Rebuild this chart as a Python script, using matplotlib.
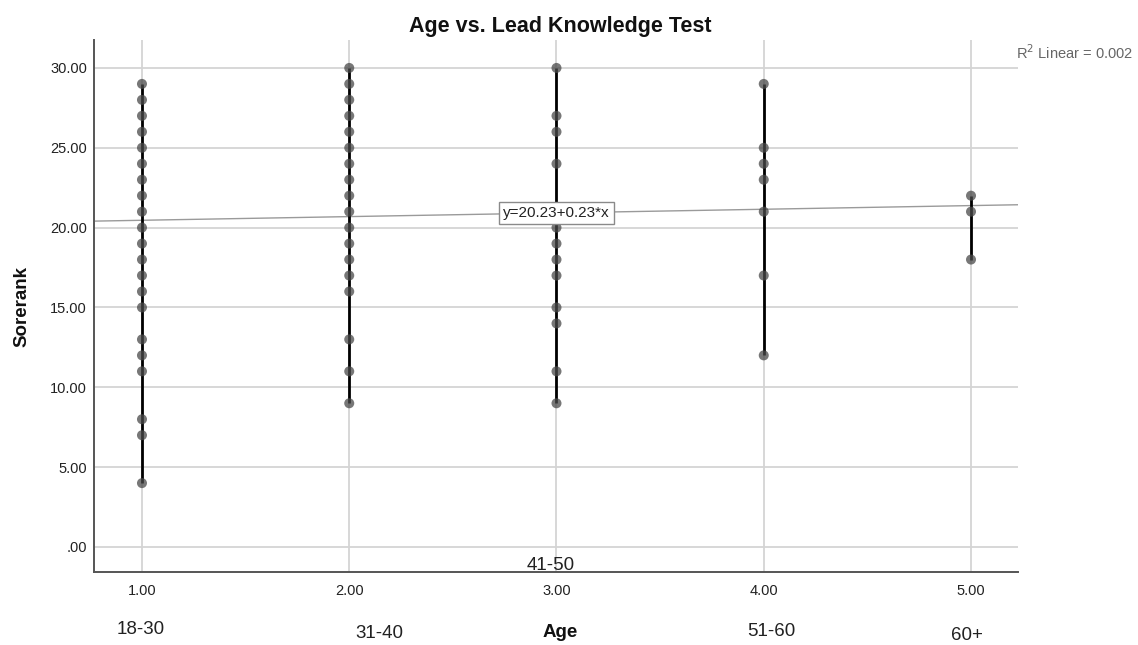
import matplotlib
matplotlib.use("Agg")
import matplotlib.pyplot as plt
import matplotlib.transforms as mtransforms
from matplotlib.ticker import FuncFormatter, MultipleLocator

plt.rcParams["font.family"] = ["Liberation Sans", "DejaVu Sans"]

# data
AGE_CODES = [1, 2, 3, 4, 5]
AGE_GROUPS = ["18-30", "31-40", "41-50", "51-60", "60+"]
SCORES_1 = [29, 28, 27, 26, 25, 24, 23, 22, 21, 20, 19, 18, 17, 16, 15, 13, 12, 11, 8, 7, 4]
SCORES_2 = [30, 29, 28, 27, 26, 25, 24, 23, 22, 21, 20, 19, 18, 17, 16, 13, 11, 9]
SCORES_3 = [30, 27, 26, 24, 20, 19, 18, 17, 15, 14, 11, 9]
SCORES_4 = [29, 25, 24, 23, 21, 17, 12]
SCORES_5 = [22, 21, 18]
FIT_INTERCEPT = 20.23
FIT_SLOPE = 0.23
R2_LINEAR = 0.002

# layout for the age-group captions (x in data units, y in figure fraction)
GROUP_LABEL_POS = [(0.995, 0.017), (2.143, 0.011), (2.974, 0.117), (4.037, 0.014), (4.98, 0.008)]


def main() -> None:
    fig = plt.figure(figsize=(11.38, 6.45), dpi=100)
    ax = fig.add_axes([0.0826, 0.1132, 0.812, 0.8248])

    xmin, xmax = 0.7685, 5.227
    ax.set_xlim(xmin, xmax)
    ax.set_ylim(-1.565, 31.75)

    ax.grid(True, color="#d4d4d4", linewidth=1.3, zorder=0)
    ax.set_axisbelow(True)

    all_scores = [SCORES_1, SCORES_2, SCORES_3, SCORES_4, SCORES_5]
    for code, scores in zip(AGE_CODES, all_scores):
        ax.vlines(code, min(scores), max(scores), color="black", linewidth=2.0, zorder=3)
        ax.scatter([code] * len(scores), scores, s=52, color="#4a4a4a", alpha=0.75,
                   edgecolors="none", zorder=4)

    # linear fit line across the full axis
    ax.plot([xmin, xmax], [FIT_INTERCEPT + FIT_SLOPE * xmin, FIT_INTERCEPT + FIT_SLOPE * xmax],
            color="#9a9a9a", linewidth=1.0, zorder=2)
    ax.text(3, FIT_INTERCEPT + FIT_SLOPE * 3, f"y={FIT_INTERCEPT:.2f}+{FIT_SLOPE:.2f}*x",
            ha="center", va="center", fontsize=11, color="#222222", zorder=6,
            bbox=dict(boxstyle="square,pad=0.25", facecolor="white", edgecolor="#8a8a8a",
                      linewidth=1.0))

    ax.set_xticks(AGE_CODES)
    ax.xaxis.set_major_formatter(FuncFormatter(lambda v, _: f"{v:.2f}"))
    ax.yaxis.set_major_locator(MultipleLocator(5))
    ax.yaxis.set_major_formatter(
        FuncFormatter(lambda v, _: ".00" if abs(v) < 1e-9 else f"{v:.2f}"))
    ax.tick_params(axis="x", length=0, pad=9, labelsize=10.5, colors="#222222")
    ax.tick_params(axis="y", length=0, pad=5, labelsize=10.5, colors="#222222")

    for side in ["top", "right"]:
        ax.spines[side].set_visible(False)
    for side in ["left", "bottom"]:
        ax.spines[side].set_color("#555555")
        ax.spines[side].set_linewidth(1.4)

    fig.text(0.492, 0.9504, "Age vs. Lead Knowledge Test", ha="center", va="baseline",
             fontsize=15.5, fontweight="bold", color="#111111")
    fig.text(0.9956, 0.919, f"R$^2$ Linear = {R2_LINEAR:.3f}", ha="right", va="center",
             fontsize=10.5, color="#666666")
    fig.text(0.0193, 0.525, "Sorerank", rotation=90, ha="center", va="center",
             fontsize=13.5, fontweight="bold", color="#111111")
    fig.text(0.492, 0.013, "Age", ha="center", va="baseline",
             fontsize=13.5, fontweight="bold", color="#111111")

    trans = mtransforms.blended_transform_factory(ax.transData, fig.transFigure)
    for label, (lx, ly) in zip(AGE_GROUPS, GROUP_LABEL_POS):
        ax.text(lx, ly, label, transform=trans, ha="center", va="baseline",
                fontsize=13.5, color="#222222", clip_on=False)

    fig.savefig("out.png", dpi=100)
    plt.close(fig)


if __name__ == "__main__":
    main()
